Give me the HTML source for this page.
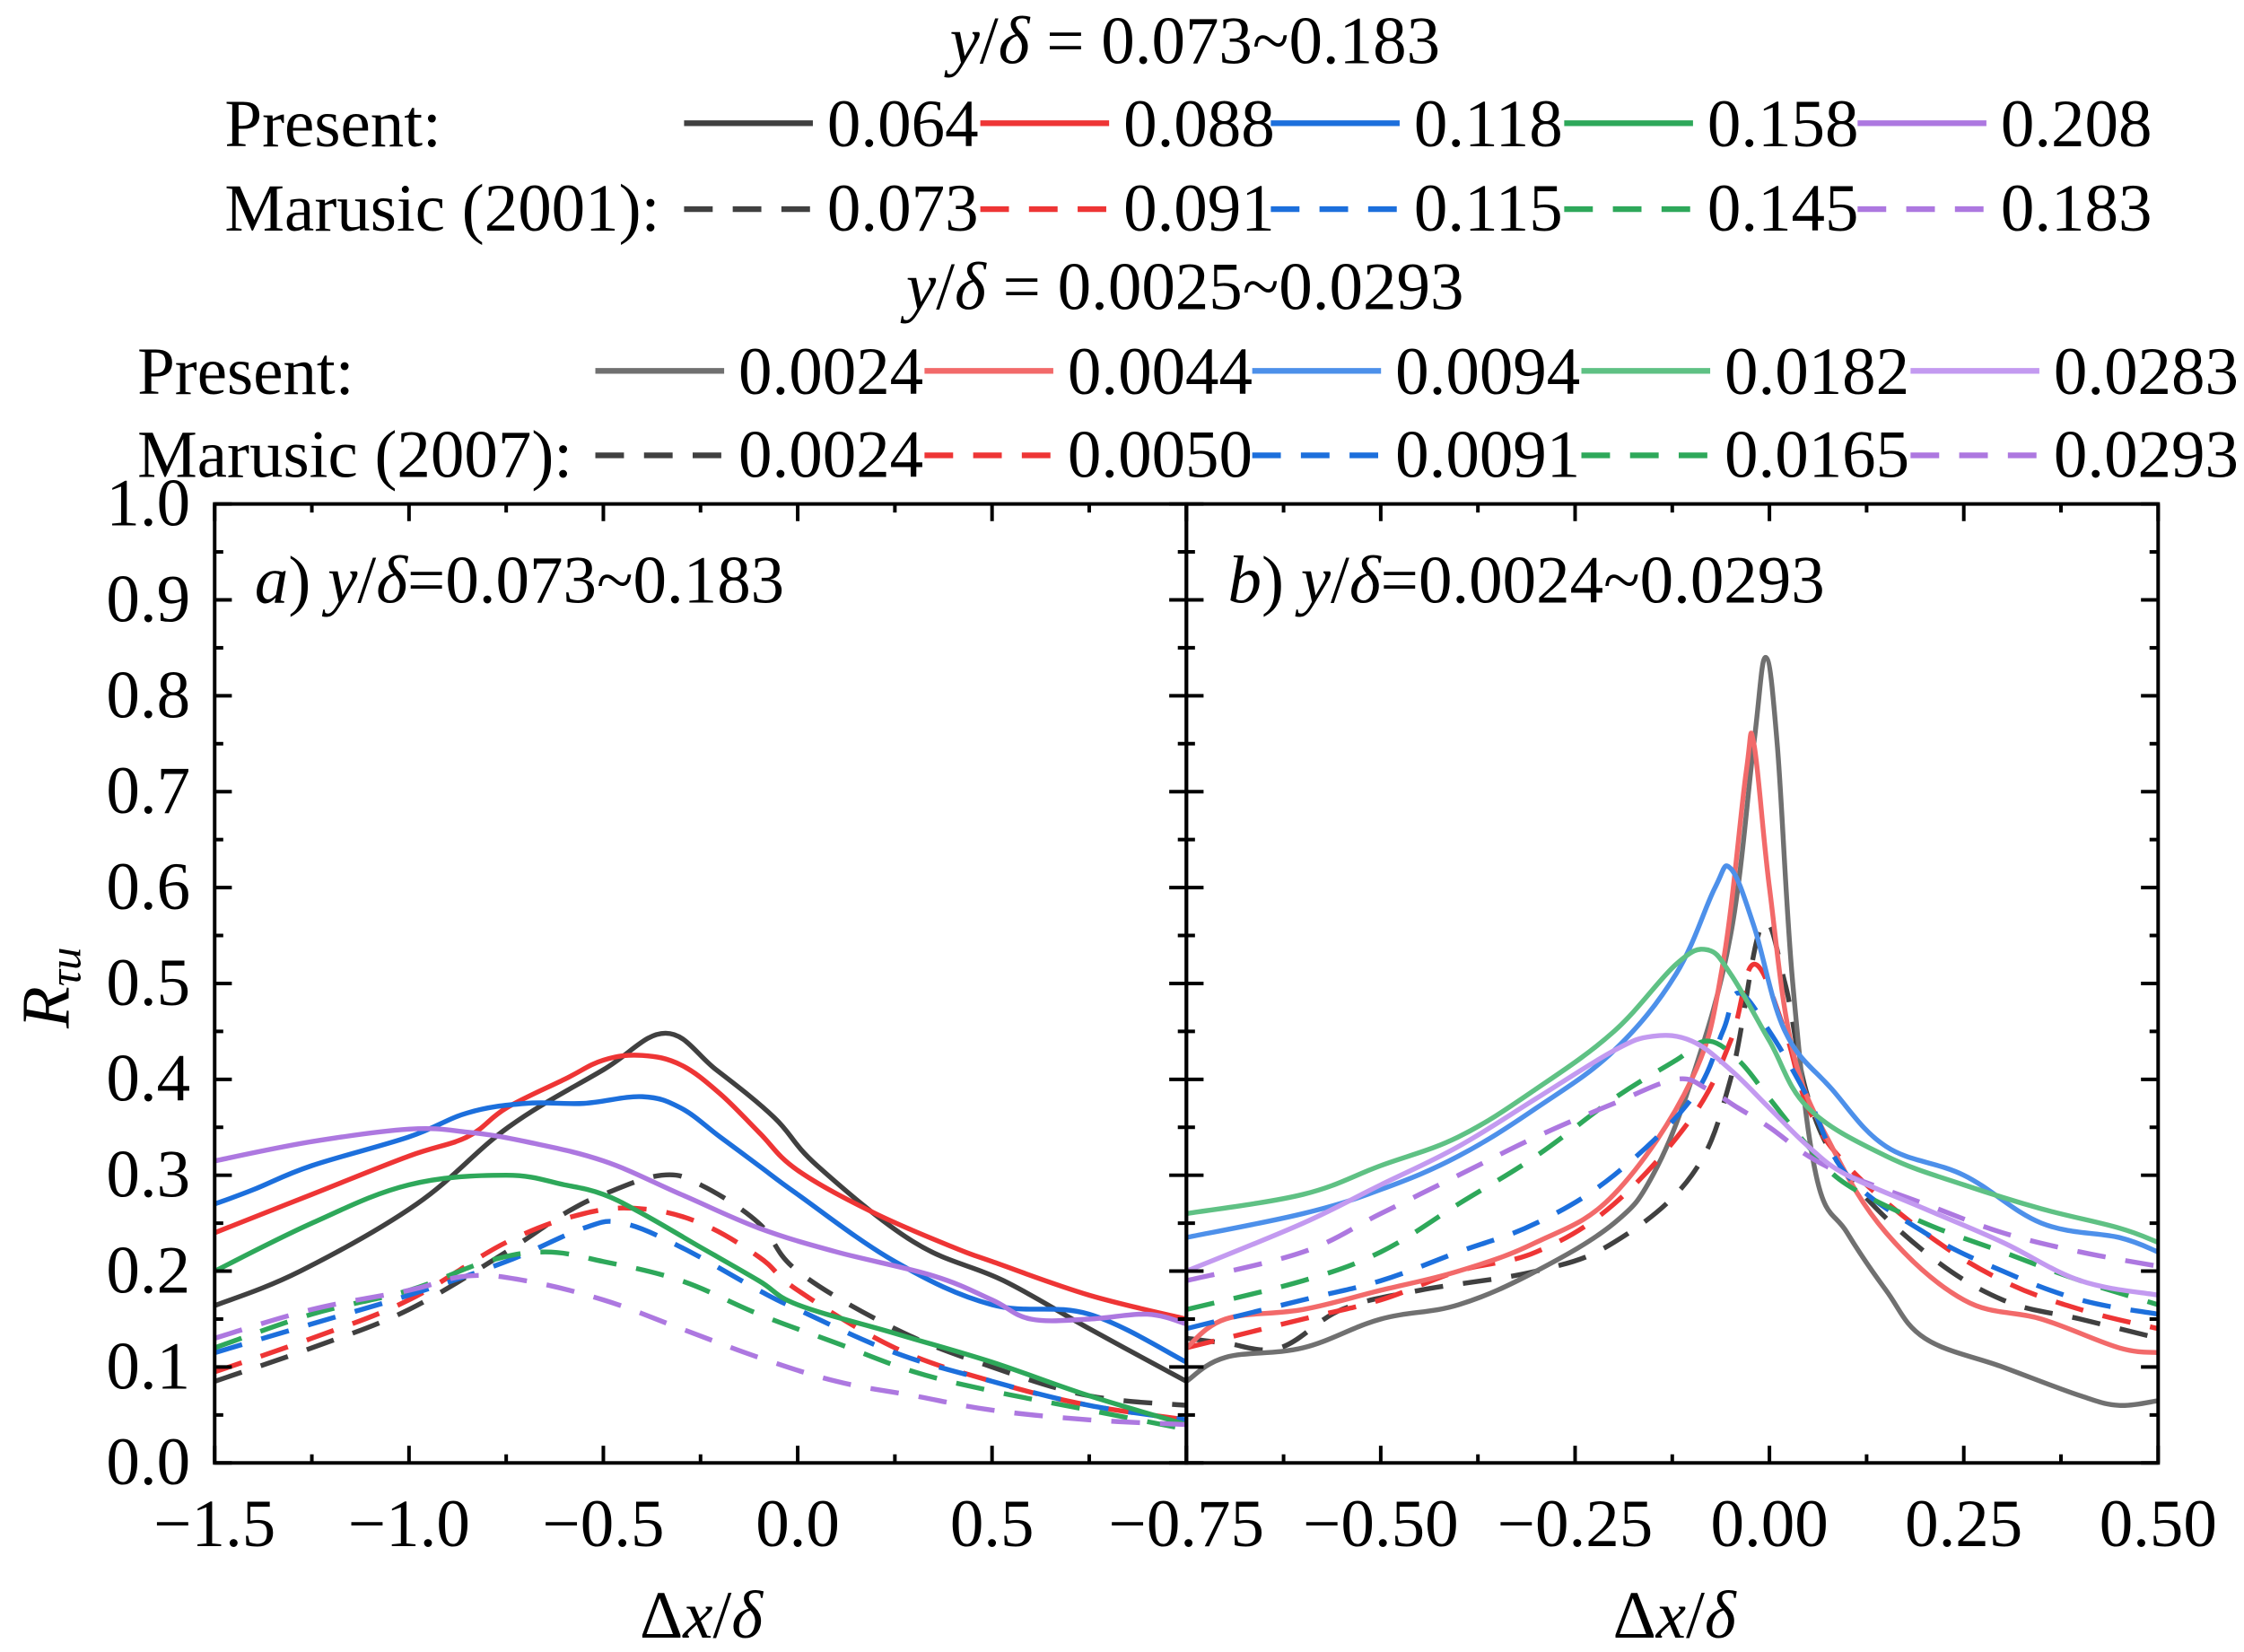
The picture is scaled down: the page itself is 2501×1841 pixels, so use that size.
<!DOCTYPE html>
<html><head><meta charset="utf-8"><style>
html,body{margin:0;padding:0;background:#fff}
svg{display:block}
text{font-family:"Liberation Serif",serif;fill:#000}
</style></head><body>
<svg id="chart" width="2501" height="1841" viewBox="0 0 1568 1154" xmlns="http://www.w3.org/2000/svg">
<g id="legend"></g>
<g id="plots"></g>
</svg>
<script>
// ---- data ----
const leftSolidLabels = ["0.064","0.088","0.118","0.158","0.208"];
const leftDashLabels = ["0.073","0.091","0.115","0.145","0.183"];
const rightSolidLabels = ["0.0024","0.0044","0.0094","0.0182","0.0283"];
const rightDashLabels = ["0.0024","0.0050","0.0091","0.0165","0.0293"];
const leftXTicks = [-1.5,-1.0,-0.5,0.0,0.5];
const leftXTickLabels = ["\u22121.5","\u22121.0","\u22120.5","0.0","0.5"];
const rightXTicks = [-0.75,-0.5,-0.25,0.0,0.25,0.5];
const rightXTickLabels = ["\u22120.75","\u22120.50","\u22120.25","0.00","0.25","0.50"];
const yTicks = [0,0.1,0.2,0.3,0.4,0.5,0.6,0.7,0.8,0.9,1.0];
const yTickLabels = ["0.0","0.1","0.2","0.3","0.4","0.5","0.6","0.7","0.8","0.9","1.0"];

const L_s0x=[-1.5,-1.28,-0.98,-0.745,-0.5,-0.34,-0.21,-0.06,0.05,0.3,0.53,0.75,1.0];
const L_s0y=[0.164,0.2,0.27,0.35,0.41,0.448,0.41,0.36,0.31,0.23,0.19,0.14,0.085];
const L_s1x=[-1.5,-1.25,-1.0,-0.85,-0.75,-0.6,-0.5,-0.4,-0.3,-0.2,-0.1,0,0.2,0.4,0.5,0.75,1.0];
const L_s1y=[0.24,0.28,0.32,0.34,0.37,0.40,0.42,0.425,0.415,0.385,0.345,0.305,0.26,0.225,0.21,0.175,0.15];
const L_s2x=[-1.5,-1.4,-1.25,-1.0,-0.85,-0.7,-0.55,-0.4,-0.3,-0.2,-0.1,0,0.25,0.5,0.75,1.0];
const L_s2y=[0.27,0.285,0.31,0.34,0.365,0.375,0.375,0.382,0.37,0.34,0.31,0.28,0.21,0.165,0.155,0.105];
const L_s3x=[-1.5,-1.25,-1.0,-0.75,-0.6,-0.5,-0.4,-0.25,-0.1,0,0.25,0.5,0.75,1.0];
const L_s3y=[0.2,0.25,0.29,0.3,0.29,0.28,0.26,0.225,0.19,0.165,0.135,0.105,0.07,0.04];
const L_s4x=[-1.5,-1.25,-1.0,-0.85,-0.7,-0.5,-0.3,-0.1,0.1,0.35,0.5,0.6,0.75,0.9,1.0];
const L_s4y=[0.315,0.335,0.348,0.345,0.335,0.315,0.28,0.245,0.22,0.195,0.17,0.15,0.15,0.155,0.145];
const L_d0x=[-1.5,-1.25,-1.0,-0.75,-0.6,-0.5,-0.35,-0.25,-0.1,0,0.25,0.5,0.75,1.0];
const L_d0y=[0.085,0.12,0.16,0.22,0.26,0.28,0.30,0.29,0.25,0.2,0.14,0.1,0.07,0.06];
const L_d1x=[-1.5,-1.25,-1.0,-0.75,-0.55,-0.4,-0.25,-0.1,0,0.25,0.5,0.75,1.0];
const L_d1y=[0.095,0.13,0.17,0.23,0.26,0.265,0.25,0.215,0.18,0.12,0.085,0.06,0.045];
const L_d2x=[-1.5,-1.25,-1.0,-0.75,-0.55,-0.45,-0.3,-0.1,0,0.25,0.5,0.75,1.0];
const L_d2y=[0.115,0.145,0.175,0.21,0.245,0.25,0.225,0.18,0.16,0.115,0.085,0.06,0.045];
const L_d3x=[-1.5,-1.25,-1.0,-0.8,-0.65,-0.5,-0.3,-0.1,0.1,0.3,0.5,0.75,1.0];
const L_d3y=[0.12,0.155,0.18,0.21,0.22,0.21,0.19,0.155,0.125,0.095,0.075,0.055,0.035];
const L_d4x=[-1.5,-1.25,-1.0,-0.85,-0.7,-0.5,-0.3,-0.1,0.1,0.3,0.5,0.75,1.0];
const L_d4y=[0.13,0.16,0.18,0.195,0.19,0.17,0.14,0.11,0.085,0.07,0.055,0.045,0.04];

const R_s0x=[-0.75,-0.7,-0.6,-0.5,-0.4,-0.3,-0.2,-0.15,-0.1,-0.05,-0.02,-0.005,0.01,0.03,0.06,0.1,0.15,0.2,0.3,0.4,0.45,0.5];
const R_s0y=[0.085,0.11,0.12,0.15,0.165,0.2,0.25,0.3,0.4,0.55,0.75,0.84,0.75,0.5,0.3,0.24,0.18,0.13,0.1,0.07,0.06,0.065];
const R_s1x=[-0.75,-0.7,-0.6,-0.5,-0.4,-0.3,-0.2,-0.1,-0.06,-0.03,-0.02,0.0,0.03,0.08,0.15,0.25,0.35,0.45,0.5];
const R_s1y=[0.12,0.15,0.16,0.18,0.2,0.23,0.28,0.4,0.52,0.72,0.75,0.6,0.43,0.33,0.24,0.17,0.15,0.12,0.115];
const R_s2x=[-0.75,-0.6,-0.5,-0.4,-0.3,-0.2,-0.12,-0.07,-0.05,-0.02,0.02,0.08,0.15,0.25,0.35,0.45,0.5];
const R_s2y=[0.235,0.26,0.285,0.32,0.37,0.43,0.51,0.6,0.62,0.56,0.45,0.39,0.33,0.3,0.25,0.235,0.22];
const R_s3x=[-0.75,-0.6,-0.5,-0.4,-0.3,-0.2,-0.12,-0.08,-0.05,0.0,0.05,0.15,0.25,0.35,0.45,0.5];
const R_s3y=[0.26,0.28,0.31,0.34,0.39,0.45,0.52,0.535,0.51,0.44,0.37,0.32,0.29,0.265,0.245,0.23];
const R_s4x=[-0.75,-0.6,-0.5,-0.4,-0.3,-0.2,-0.15,-0.1,-0.05,0.0,0.05,0.1,0.2,0.3,0.4,0.5];
const R_s4y=[0.2,0.25,0.29,0.33,0.38,0.43,0.445,0.44,0.41,0.37,0.33,0.3,0.265,0.23,0.19,0.175];
const R_d0x=[-0.75,-0.7,-0.63,-0.55,-0.45,-0.3,-0.2,-0.1,-0.05,-0.01,0.02,0.05,0.1,0.2,0.3,0.4,0.5];
const R_d0y=[0.13,0.125,0.12,0.16,0.18,0.2,0.23,0.3,0.4,0.56,0.5,0.38,0.3,0.22,0.17,0.15,0.13];
const R_d1x=[-0.75,-0.6,-0.5,-0.4,-0.3,-0.2,-0.1,-0.05,-0.02,0.02,0.05,0.1,0.2,0.3,0.4,0.5];
const R_d1y=[0.12,0.15,0.17,0.2,0.22,0.27,0.36,0.44,0.52,0.45,0.37,0.31,0.24,0.19,0.16,0.14];
const R_d2x=[-0.75,-0.6,-0.5,-0.4,-0.3,-0.2,-0.1,-0.06,-0.04,0.0,0.05,0.1,0.2,0.3,0.4,0.5];
const R_d2y=[0.14,0.17,0.19,0.22,0.25,0.3,0.38,0.45,0.49,0.45,0.38,0.3,0.24,0.2,0.17,0.155];
const R_d3x=[-0.75,-0.6,-0.5,-0.4,-0.3,-0.2,-0.12,-0.08,-0.04,0.0,0.05,0.1,0.2,0.3,0.4,0.5];
const R_d3y=[0.16,0.19,0.22,0.27,0.32,0.38,0.42,0.44,0.42,0.38,0.33,0.29,0.25,0.22,0.19,0.165];
const R_d4x=[-0.75,-0.6,-0.5,-0.4,-0.3,-0.2,-0.12,-0.08,-0.04,0.0,0.05,0.1,0.2,0.3,0.4,0.5];
const R_d4y=[0.19,0.22,0.26,0.3,0.34,0.375,0.4,0.39,0.37,0.35,0.32,0.3,0.27,0.24,0.22,0.205];

const darkColors=["#404040","#ee3535","#1c6fdc","#2ea85a","#ad78e0"];
const lightColors=["#707070","#f26a6a","#4d90ea","#5fc184","#c39af0"];

const NS="http://www.w3.org/2000/svg";
function mk(tag,attrs,parent){const e=document.createElementNS(NS,tag);for(const k in attrs)e.setAttribute(k,attrs[k]);parent.appendChild(e);return e;}

const plots=document.getElementById('plots');
const yTop=352,yBot=1022;
function sy(v){return yBot-(yBot-yTop)*v;}
const L={x0:150,x1:829,min:-1.5,max:1.0};
const R={x0:829,x1:1508,min:-0.75,max:0.5};
function sxL(v){return L.x0+(v-L.min)/(L.max-L.min)*(L.x1-L.x0);}
function sxR(v){return R.x0+(v-R.min)/(R.max-R.min)*(R.x1-R.x0);}

const defs=mk('defs',{},plots);
const cl=mk('clipPath',{id:'clipL'},defs);mk('rect',{x:L.x0,y:yTop,width:L.x1-L.x0,height:yBot-yTop},cl);
const cr=mk('clipPath',{id:'clipR'},defs);mk('rect',{x:R.x0,y:yTop,width:R.x1-R.x0,height:yBot-yTop},cr);

function smoothPath(pts){
  let d='M'+pts[0][0].toFixed(1)+','+pts[0][1].toFixed(1);
  for(let i=0;i<pts.length-1;i++){
    const p0=pts[i-1]||pts[i],p1=pts[i],p2=pts[i+1],p3=pts[i+2]||p2;
    const t=0.18;
    const c1=[p1[0]+(p2[0]-p0[0])*t,p1[1]+(p2[1]-p0[1])*t];
    const c2=[p2[0]-(p3[0]-p1[0])*t,p2[1]-(p3[1]-p1[1])*t];
    d+='C'+c1[0].toFixed(1)+','+c1[1].toFixed(1)+' '+c2[0].toFixed(1)+','+c2[1].toFixed(1)+' '+p2[0].toFixed(1)+','+p2[1].toFixed(1);
  }
  return d;
}
function drawSeries(xs,ys,sx,color,dashed,clip,name){
  const pts=xs.map((x,i)=>[sx(x),sy(ys[i])]);
  const p=mk('path',{d:smoothPath(pts),fill:'none',stroke:color,'stroke-width':3.4,'stroke-linejoin':'round','clip-path':'url(#'+clip+')'},plots);
  if(dashed)p.setAttribute('stroke-dasharray','20,14');
  
  
}
const Ls=[[L_s0x,L_s0y],[L_s1x,L_s1y],[L_s2x,L_s2y],[L_s3x,L_s3y],[L_s4x,L_s4y]];
const Ld=[[L_d0x,L_d0y],[L_d1x,L_d1y],[L_d2x,L_d2y],[L_d3x,L_d3y],[L_d4x,L_d4y]];
const Rs=[[R_s0x,R_s0y],[R_s1x,R_s1y],[R_s2x,R_s2y],[R_s3x,R_s3y],[R_s4x,R_s4y]];
const Rd=[[R_d0x,R_d0y],[R_d1x,R_d1y],[R_d2x,R_d2y],[R_d3x,R_d3y],[R_d4x,R_d4y]];
for(let i=0;i<5;i++){
  drawSeries(Ld[i][0],Ld[i][1],sxL,darkColors[i],true,'clipL','left-marusic-'+leftDashLabels[i]);
  drawSeries(Ls[i][0],Ls[i][1],sxL,darkColors[i],false,'clipL','left-present-'+leftSolidLabels[i]);
  drawSeries(Rd[i][0],Rd[i][1],sxR,darkColors[i],true,'clipR','right-marusic-'+rightDashLabels[i]);
  drawSeries(Rs[i][0],Rs[i][1],sxR,lightColors[i],false,'clipR','right-present-'+rightSolidLabels[i]);
}

[[L.x0,L.x1],[R.x0,R.x1]].forEach((p,k)=>{
  const r=mk('rect',{x:p[0],y:yTop,width:p[1]-p[0],height:yBot-yTop,fill:'none',stroke:'#000','stroke-width':2.5},plots);
  
  
});
function tick(x1,y1,x2,y2){mk('line',{x1:x1,y1:y1,x2:x2,y2:y2,stroke:'#000','stroke-width':2.5},plots);}
for(let i=0;i<yTicks.length;i++){
  const y=sy(yTicks[i]);
  tick(L.x0,y,L.x0+12,y);tick(L.x1-12,y,L.x1+12,y);tick(R.x1-12,y,R.x1,y);
  if(i<yTicks.length-1){const ym=sy(yTicks[i]+0.05);tick(L.x0,ym,L.x0+6,ym);tick(L.x1-6,ym,L.x1+6,ym);tick(R.x1-6,ym,R.x1,ym);}
  const t=mk('text',{x:133,y:y+15,'font-size':47,'text-anchor':'end'},plots);t.textContent=yTickLabels[i];
  
  
}
function xticks(ticks,labels,sx,step,minv,maxv,side){
  for(let v=minv;v<=maxv+1e-9;v+=step/2){const x=sx(v);const major=Math.abs(Math.round(v/step)*step-v)<1e-6;const len=major?12:6;tick(x,yBot,x,yBot-len);tick(x,yTop,x,yTop+len);}
  for(let i=0;i<ticks.length;i++){
    const t=mk('text',{x:sx(ticks[i]),y:1080,'font-size':47,'text-anchor':'middle'},plots);t.textContent=labels[i];
    
    
  }
}
xticks(leftXTicks,leftXTickLabels,sxL,0.5,-1.5,1.0,'left');
xticks(rightXTicks,rightXTickLabels,sxR,0.25,-0.75,0.5,'right');
</script>
<svg style="position:absolute;left:0;top:0" width="2501" height="1841" viewBox="0 0 1568 1154" xmlns="http://www.w3.org/2000/svg">
<text x="490" y="1144" font-size="47" text-anchor="middle">Δ<tspan font-style="italic">x</tspan>/<tspan font-style="italic">δ</tspan></text>
<text x="1170" y="1144" font-size="47" text-anchor="middle">Δ<tspan font-style="italic">x</tspan>/<tspan font-style="italic">δ</tspan></text>
<text transform="translate(48,690) rotate(-90)" font-size="48" text-anchor="middle"><tspan font-style="italic">R</tspan><tspan font-style="italic" font-size="32" dy="8">τu</tspan></text>
<text x="178" y="421" font-size="47"><tspan font-style="italic">a</tspan>) <tspan font-style="italic">y</tspan>/<tspan font-style="italic">δ</tspan>=0.073~0.183</text>
<text x="858" y="421" font-size="47"><tspan font-style="italic">b</tspan>) <tspan font-style="italic">y</tspan>/<tspan font-style="italic">δ</tspan>=0.0024~0.0293</text>
<text x="835" y="44" font-size="47" text-anchor="middle"><tspan font-style="italic">y</tspan>/<tspan font-style="italic">δ</tspan> = 0.073~0.183</text>
<text x="828" y="216" font-size="47" text-anchor="middle"><tspan font-style="italic">y</tspan>/<tspan font-style="italic">δ</tspan> = 0.0025~0.0293</text>
<text x="157" y="102" font-size="47">Present:</text>
<text x="157" y="161" font-size="47">Marusic (2001):</text>
<text x="96" y="275" font-size="47">Present:</text>
<text x="96" y="333" font-size="47">Marusic (2007):</text>
<g id="legendItems"></g>
</svg>
<script>
(function(){
const g=document.getElementById('legendItems');
const rows=[
 {lines:[478,685,888,1093,1298],y:86,base:102,labels:leftSolidLabels,colors:darkColors,dash:false,n:'legend-top-present'},
 {lines:[478,685,888,1093,1298],y:146,base:161,labels:leftDashLabels,colors:darkColors,dash:true,n:'legend-top-marusic'},
 {lines:[416,646,875,1105,1335],y:259,base:275,labels:rightSolidLabels,colors:lightColors,dash:false,n:'legend-bottom-present'},
 {lines:[416,646,875,1105,1335],y:318,base:333,labels:rightDashLabels,colors:darkColors,dash:true,n:'legend-bottom-marusic'}];
rows.forEach(r=>{for(let i=0;i<5;i++){
  const l=mk('line',{x1:r.lines[i],x2:r.lines[i]+90,y1:r.y,y2:r.y,stroke:r.colors[i],'stroke-width':4},g);
  if(r.dash)l.setAttribute('stroke-dasharray','20,14');
  
  
  const t=mk('text',{x:r.lines[i]+100,y:r.base,'font-size':47},g);t.textContent=r.labels[i];
  
  
}});
})();
</script>
</body></html>
